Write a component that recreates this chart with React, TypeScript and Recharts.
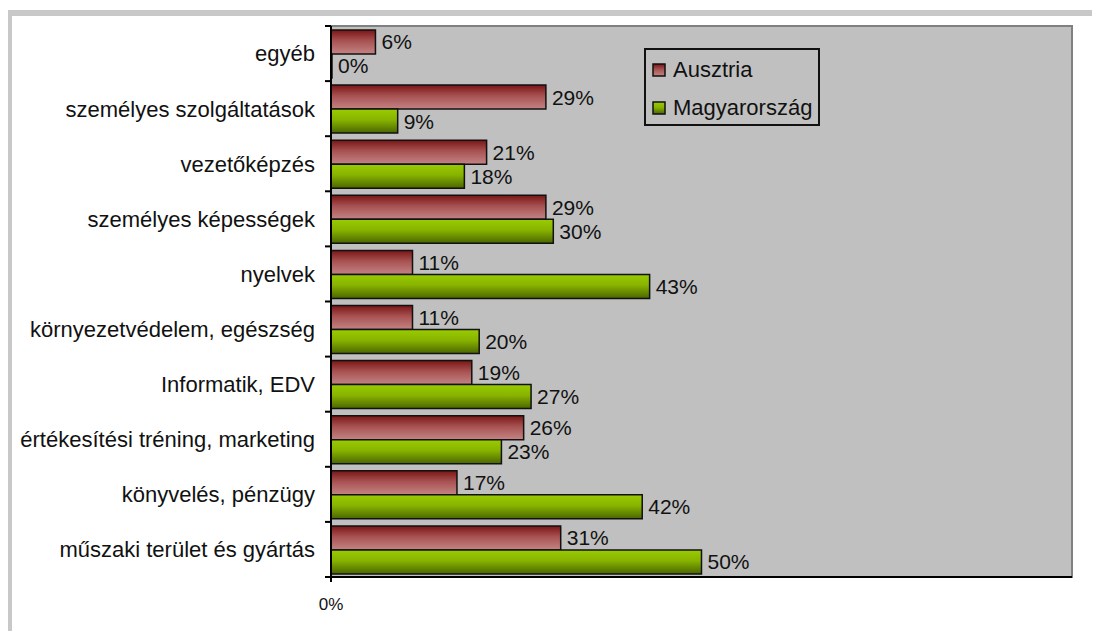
import { BarChart, Bar, XAxis, YAxis, CartesianGrid, LabelList, ReferenceArea } from "recharts";

const categories = [
  "egyéb",
  "személyes szolgáltatások",
  "vezetőképzés",
  "személyes képességek",
  "nyelvek",
  "környezetvédelem, egészség",
  "Informatik, EDV",
  "értékesítési tréning, marketing",
  "könyvelés, pénzügy",
  "műszaki terület és gyártás",
];
const ausztria = [6, 29, 21, 29, 11, 11, 19, 26, 17, 31];
const magyarorszag = [0, 9, 18, 30, 43, 20, 27, 23, 42, 50];
const xTicks = [0];

const FONT = "'Liberation Sans', Arial, sans-serif";
const W = 1100;
const H = 639;
const MARGIN = { top: 26, right: 28, left: 0, bottom: 22 };
const X_AXIS_H = 40;
const Y_AXIS_W = 331;
const PLOT_H = H - MARGIN.top - MARGIN.bottom - X_AXIS_H;
const BAND = PLOT_H / categories.length;

const data = categories.map((name, i) => ({
  name,
  ausztria: ausztria[i],
  magyarorszag: magyarorszag[i],
}));

const pct = (v: number | string) => `${v}%`;

function CategoryTick(props: any) {
  const { x, y, payload, index } = props;
  const ax = x + 16;
  return (
    <g>
      <text x={x} y={y} dy="0.36em" textAnchor="end" fontSize={22} fontFamily={FONT} fill="#111">
        {payload.value}
      </text>
      <line x1={ax} x2={ax - 6} y1={y - BAND / 2} y2={y - BAND / 2} stroke="#000" strokeWidth={2} />
      {index === categories.length - 1 && (
        <line x1={ax} x2={ax - 6} y1={y + BAND / 2} y2={y + BAND / 2} stroke="#000" strokeWidth={2} />
      )}
    </g>
  );
}

function LegendBox() {
  const items = [
    { label: "Ausztria", fill: "url(#gradRed)" },
    { label: "Magyarország", fill: "url(#gradGreen)" },
  ];
  return (
    <div
      style={{
        position: "absolute",
        left: 644,
        top: 48,
        border: "2px solid #111",
        padding: "1px 0 0 6px",
        fontFamily: FONT,
        fontSize: 22,
        color: "#111",
        boxSizing: "border-box",
        width: 176,
        height: 78,
      }}
    >
      {items.map((it) => (
        <div key={it.label} style={{ display: "flex", alignItems: "center", height: 38 }}>
          <svg width={14} height={14} style={{ marginRight: 7 }}>
            <rect x={1} y={1} width={12} height={12} fill={it.fill} stroke="#111" strokeWidth={1.5} />
          </svg>
          <span>{it.label}</span>
        </div>
      ))}
    </div>
  );
}

export default function App() {
  return (
    <div style={{ position: "relative", margin: -8, width: W, height: H, overflow: "hidden", background: "#fff" }}>
      <div
        style={{
          position: "absolute",
          left: 7,
          top: 10,
          width: 2000,
          height: 2000,
          borderTop: "6px solid #c8c8c8",
          borderLeft: "5px solid #c8c8c8",
        }}
      />
      <div style={{ position: "absolute", left: 0, top: 0 }}>
        <BarChart
          width={W}
          height={H}
          data={data}
          layout="vertical"
          margin={MARGIN}
          barSize={24}
          barGap={0}
        >
          <defs>
            <linearGradient id="gradRed" x1="0" y1="0" x2="0" y2="1">
              <stop offset="0%" stopColor="#7a1515" />
              <stop offset="45%" stopColor="#a85252" />
              <stop offset="100%" stopColor="#c48484" />
            </linearGradient>
            <linearGradient id="gradGreen" x1="0" y1="0" x2="0" y2="1">
              <stop offset="0%" stopColor="#99cc00" />
              <stop offset="45%" stopColor="#88b300" />
              <stop offset="100%" stopColor="#4a6600" />
            </linearGradient>
          </defs>
          <CartesianGrid fill="#c0c0c0" horizontal={false} vertical={false} />
          <ReferenceArea x1={0} x2={100} fill="none" stroke="#808080" strokeWidth={2} ifOverflow="visible" />
          <XAxis
            type="number"
            domain={[0, 100]}
            ticks={xTicks}
            tickFormatter={pct}
            height={X_AXIS_H}
            axisLine={{ stroke: "#000", strokeWidth: 2 }}
            tickLine={{ stroke: "#000", strokeWidth: 2 }}
            tickSize={5}
            tickMargin={16}
            tick={{ fontSize: 17, fontFamily: FONT, fill: "#111" }}
          />
          <YAxis
            type="category"
            dataKey="name"
            width={Y_AXIS_W}
            axisLine={{ stroke: "#000", strokeWidth: 2 }}
            tickLine={false}
            tickSize={0}
            tickMargin={16}
            interval={0}
            tick={<CategoryTick />}
          />
          <Bar dataKey="ausztria" name="Ausztria" fill="url(#gradRed)" stroke="#111" strokeWidth={1.5} isAnimationActive={false}>
            <LabelList dataKey="ausztria" position="right" offset={6} formatter={pct} fontSize={21} fontFamily={FONT} fill="#111" />
          </Bar>
          <Bar
            dataKey="magyarorszag"
            name="Magyarország"
            fill="url(#gradGreen)"
            stroke="#111"
            strokeWidth={1.5}
            minPointSize={1}
            isAnimationActive={false}
          >
            <LabelList dataKey="magyarorszag" position="right" offset={6} formatter={pct} fontSize={21} fontFamily={FONT} fill="#111" />
          </Bar>
        </BarChart>
      </div>
      <LegendBox />
    </div>
  );
}
